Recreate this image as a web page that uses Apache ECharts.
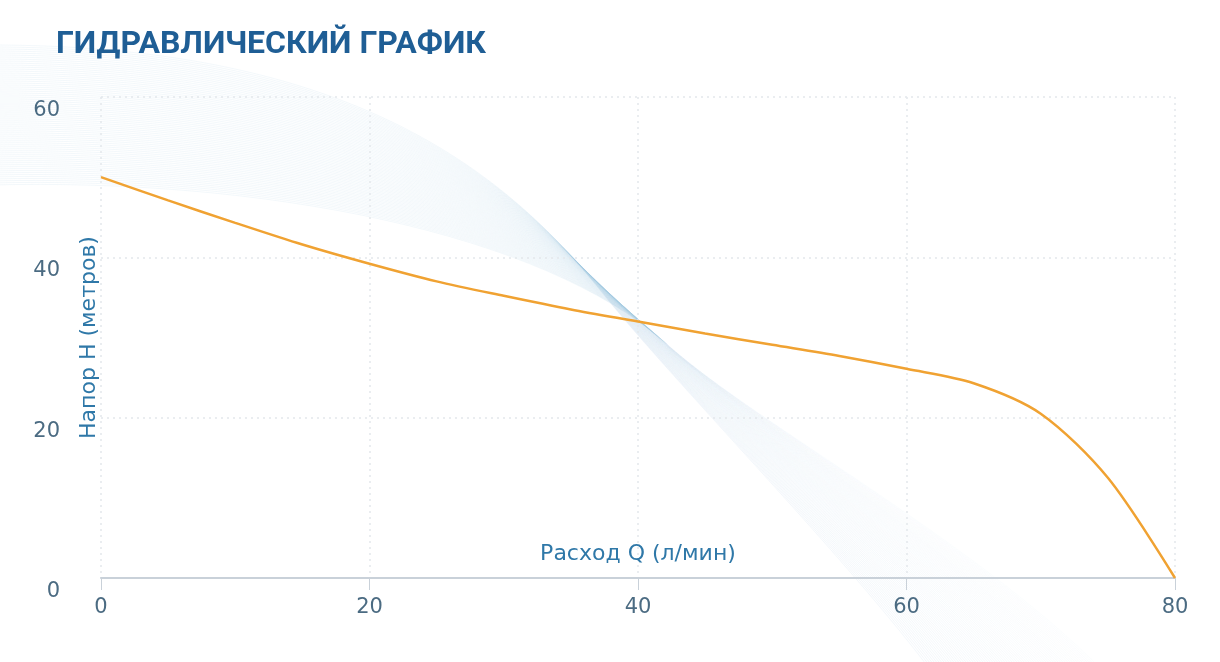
<!DOCTYPE html>
<html><head><meta charset="utf-8">
<script src="https://cdn.jsdelivr.net/npm/echarts@6/dist/echarts.min.js"></script>
<style>html,body{margin:0;padding:0;background:#fff}#c{width:1220px;height:662px}</style>
</head><body><div id="c"></div>
<script>
const title = 'ГИДРАВЛИЧЕСКИЙ ГРАФИК';
const xName = 'Расход Q (л/мин)';
const yName = 'Напор H (метров)';
const flowQ = [0, 5, 10, 15, 20, 25, 30, 35, 40, 45, 50, 55, 60, 65, 70, 75, 80];
const headH = [50, 47.1, 44.3, 41.6, 39.2, 37, 35.2, 33.5, 32, 30.5, 29.1, 27.7, 26.1, 24.3, 20.5, 12.5, 0];
const xTicks = [0, 20, 40, 60, 80];
const yTicks = [0, 20, 40, 60];

const chart = echarts.init(document.getElementById('c'));

// decorative background swoosh (pure styling, not data)
const deco = [];
const N = 70;
for (let i = 0; i <= N; i++) {
  const t = i / N;
  const L = (a, b) => a + (b - a) * t;
  const px = L(600, 668), py = L(290, 345);
  const dx = L(0.62, 0.74), dy = L(0.78, 0.67);
  deco.push({
    type: 'bezierCurve', silent: true, z: -10,
    shape: {
      x1: -10, y1: L(45, 185),
      cpx1: L(330, 260), cpy1: L(45, 178),
      cpx2: px - dx * 170, cpy2: py - dy * 170,
      x2: px, y2: py
    },
    style: { stroke: 'rgba(160,195,222,0.12)', lineWidth: 1, fill: null }
  });
  deco.push({
    type: 'bezierCurve', silent: true, z: -10,
    shape: {
      x1: px, y1: py,
      cpx1: px + dx * 120, cpy1: py + dy * 120,
      cpx2: L(860, 1010), cpy2: L(570, 560),
      x2: L(945, 1130), y2: L(690, 700)
    },
    style: { stroke: 'rgba(160,195,222,' + (0.13 - 0.09 * t).toFixed(3) + ')', lineWidth: 1, fill: null }
  });
}

const labelFont = 'DejaVu Sans';

chart.setOption({
  backgroundColor: '#ffffff',
  animation: false,
  graphic: deco,
  title: {
    text: title, left: 51, top: 24,
    textStyle: { fontFamily: 'Roboto', fontWeight: 'bold', fontSize: 32, color: '#1f5e95' }
  },
  grid: { left: 101, right: 45, top: 97, bottom: 84 },
  xAxis: {
    type: 'value', min: 0, max: 80, interval: 20,
    name: xName, nameLocation: 'middle', nameGap: -13, nameMoveOverlap: false,
    nameTextStyle: { fontFamily: labelFont, fontSize: 22, color: '#2f78a8', verticalAlign: 'bottom' },
    axisLine: { show: true, lineStyle: { color: '#c9d1d9', width: 2 } },
    axisTick: { show: true, length: 12, lineStyle: { color: '#c9d1d9' } },
    axisLabel: { margin: 19, fontFamily: labelFont, fontSize: 21, color: '#4b6b82',
      formatter: v => xTicks.includes(v) ? String(v) : '' },
    splitLine: { show: true, lineStyle: { color: '#e4e8ec', type: [2, 4], width: 1.5 } }
  },
  yAxis: {
    type: 'value', min: 0, max: 60, interval: 20,
    name: yName, nameLocation: 'middle', nameGap: 1, nameRotate: 90, nameMoveOverlap: false,
    nameTextStyle: { fontFamily: labelFont, fontSize: 22, color: '#2f78a8' },
    axisLine: { show: false },
    axisTick: { show: false },
    axisLabel: { margin: 41, fontFamily: labelFont, fontSize: 21, color: '#4b6b82',
      verticalAlign: 'top', padding: [3, 0, 0, 0],
      formatter: v => yTicks.includes(v) ? String(v) : '' },
    splitLine: { show: true, lineStyle: { color: '#e4e8ec', type: [2, 4], width: 1.5 } }
  },
  series: [{
    type: 'line', smooth: 0.3, symbol: 'none',
    data: flowQ.map((q, i) => [q, headH[i]]),
    lineStyle: { color: '#f0a232', width: 2.5 }
  }]
});
</script></body></html>
